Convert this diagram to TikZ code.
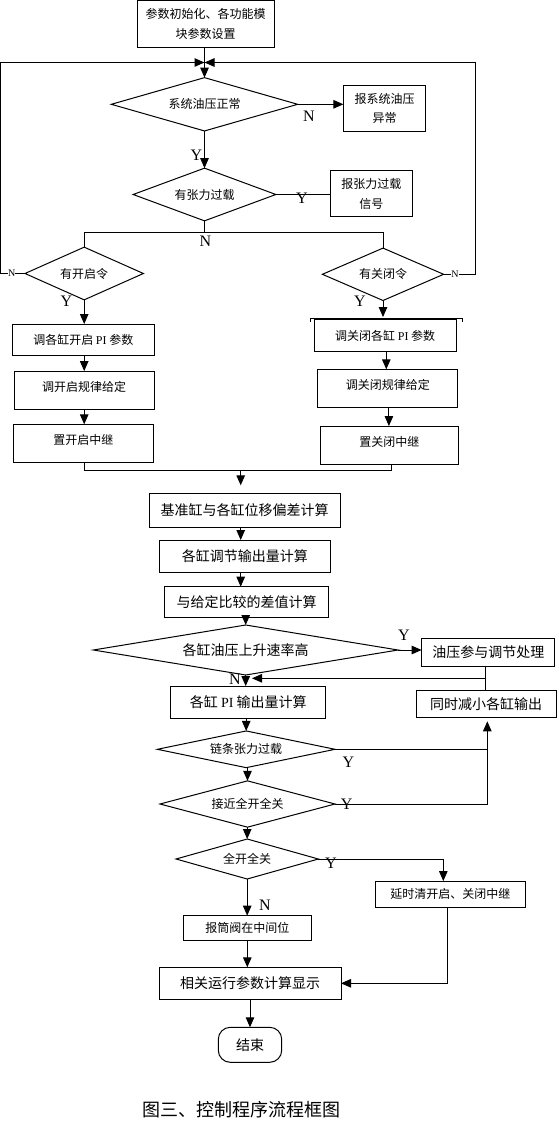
\documentclass[tikz,border=0pt]{standalone}
\usepackage{fontspec}
\setmainfont{Liberation Serif}
\newfontfamily\cjk{Noto Sans CJK SC}
\usetikzlibrary{arrows.meta,shapes.geometric}
\begin{document}
\begin{tikzpicture}[x=1pt,y=-1pt,line width=1pt,
  arr/.style={-{Triangle[length=10pt,width=8.5pt]}},
  box/.style={draw,rectangle,inner sep=0pt,outer sep=0pt,align=center},
  dia/.style={draw,diamond,inner sep=0pt,outer sep=0pt},
  fs/.style={font=\fontsize{12}{20}\cjk},
  fl/.style={font=\fontsize{14}{16}\cjk},
  up/.style={text height=10pt,text depth=8pt},
  yn/.style={font=\fontsize{16}{16}\selectfont,inner sep=0pt},
  yns/.style={font=\fontsize{10}{10}\selectfont,inner sep=0pt,fill=white},
]
\useasboundingbox (0,0) rectangle (559,1121);

% top section
\node[box,fs,minimum width=137,minimum height=47] (b1) at (205.7,24) {参数初始化、各功能模\\块参数设置};
\node[dia,fs,minimum width=186.4,minimum height=53.3,aspect=3.5] (d1) at (204.5,104.3) {系统油压正常};
\node[box,fs,minimum width=82.4,minimum height=46,font=\fontsize{12}{18.4}\cjk] (b2) at (384.6,108.3) {报系统油压\\异常};
\node[dia,fs,minimum width=142.7,minimum height=52.7,aspect=2.7] (d2) at (204.5,194.5) {有张力过载};
\node[box,fs,minimum width=82.5,minimum height=45.6] (b3) at (371.3,193.5) {报张力过载\\信号};
\node[dia,fs,minimum width=118.4,minimum height=52.7,aspect=2.25] (d3) at (84.2,273.5) {有开启令};
\node[dia,fs,minimum width=121.2,minimum height=52.4,aspect=2.3] (d4) at (383,274.3) {有关闭令};

% left column
\node[box,fs,minimum width=141.6,minimum height=31] (L1) at (83.3,339.5) {调各缸开启 {\rmfamily PI} 参数};
\node[box,fs,up,minimum width=139.8,minimum height=38.3] (L2) at (84.2,390.2) {调开启规律给定};
\node[box,fs,up,minimum width=140.1,minimum height=38] (L3) at (83.4,443.3) {置开启中继};

% right column
\node[box,fs,minimum width=142.3,minimum height=32.7] (R1) at (385.2,335.4) {调关闭各缸 {\rmfamily PI} 参数};
\node[box,fs,up,minimum width=139.8,minimum height=38] (R2) at (387.8,388.3) {调关闭规律给定};
\node[box,fs,up,minimum width=138.8,minimum height=38.3] (R3) at (389.4,445.2) {置关闭中继};

% middle
\node[box,fl,minimum width=191.3,minimum height=34] (M1) at (244.7,510.3) {基准缸与各缸位移偏差计算};
\node[box,fl,minimum width=171.7,minimum height=32.7] (M2) at (244.9,556.4) {各缸调节输出量计算};
\node[box,fl,minimum width=164.4,minimum height=31] (M3) at (246.5,602.2) {与给定比较的差值计算};
\node[dia,fl,minimum width=304.7,minimum height=50,aspect=6.1] (d5) at (245.7,650) {各缸油压上升速率高};
\node[box,fl,minimum width=133.3,minimum height=28.4] (P1) at (488.3,652.5) {油压参与调节处理};
\node[box,fl,minimum width=140,minimum height=26.6] (P2) at (486,704) {同时减小各缸输出};
\node[box,fl,minimum width=154.7,minimum height=32.3] (M4) at (248.3,702.2) {各缸 {\rmfamily PI} 输出量计算};
\node[dia,fs,minimum width=177.7,minimum height=36.7,aspect=4.8] (d6) at (246.2,749.3) {链条张力过载};
\node[dia,fs,minimum width=175,minimum height=46.3,aspect=3.8] (d7) at (247.5,804) {接近全开全关};
\node[dia,fs,minimum width=142.3,minimum height=40,aspect=3.5] (d8) at (247.2,859) {全开全关};
\node[box,fs,minimum width=150,minimum height=26.3] (T1) at (450.3,894.2) {延时清开启、关闭中继};
\node[box,fs,minimum width=128,minimum height=25.3] (T2) at (247.3,928.3) {报筒阀在中间位};
\node[box,fl,minimum width=182,minimum height=32] (T3) at (250,983.3) {相关运行参数计算显示};
\node[box,fl,minimum width=63.4,minimum height=35,rounded corners=12pt] (E) at (250,1044.8) {结束};
\node[font=\fontsize{18}{18}\cjk,inner sep=0pt] (cap) at (241,1110) {图三、控制程序流程框图};

% coordinates
\coordinate (top) at (204.5,62.5);
\coordinate (j1) at (204.5,232.3);
\coordinate (mg) at (240.7,470);
\coordinate (pv) at (485,678.3);
\coordinate (pin) at (252,678.3);
\coordinate (rv) at (487.3,749.3);

% connectors top
\draw[arr] (b1.south -| d1.north) -- (d1.north);
\draw[arr] (d3.west) -- ++(-24.5,0) |- (top);
\draw[arr] (d4.east) -- ++(32,0) |- (top);
\draw[arr] (d1.east) -- (d1.east -| b2.west);
\draw[arr] (d1.south) -- (d2.north);
\draw (d2.east) -- (d2.east -| b3.west);
\draw (d2.south) -- (j1);
\draw (d3.north) |- (j1) -| (d4.north);

% columns
\draw[arr] (d3.south) -- (d3.south |- L1.north);
\draw[arr] (L2.north |- L1.south) -- (L2.north);
\draw[arr] (L2.south) -- (L2.south |- L3.north);
\draw[arr] (d4.south) -- ([yshift=2pt]d4.south |- R1.north);
\draw (310.7,321.7) -- (310.7,318.3) -- (462.7,318.3) -- (462.7,321.7);
\draw[arr] ([xshift=1.1pt]R1.south) -- ([xshift=1.1pt]R1.south |- R2.north);
\draw[arr] ([xshift=1.1pt]R2.south) -- ([xshift=1.1pt]R2.south |- R3.north);
\draw ([xshift=0.8pt]L3.south) |- ([xshift=2.4pt]R3.south |- mg) -- ([xshift=2.4pt]R3.south);
\draw[arr,shorten >=8pt] (mg) -- (mg |- M1.north);

% middle connectors
\draw[arr] (mg |- M1.south) -- (mg |- M2.north);
\draw[arr] (mg |- M2.south) -- (mg |- M3.north);
\draw[arr] (d5.north |- M3.south) -- (d5.north);
\draw[arr] (d5.east) -- (d5.east -| P1.west);
\draw[arr] (d5.south) -- (d5.south |- M4.north);
\draw (pv |- P1.south) -- (pv |- P2.north);
\draw[arr] (pv) -- (pin);
\draw[arr] (d6.north |- M4.south) -- (d6.north);
\draw (d6.east) -- (rv);
\draw[arr,shorten >=4pt] (d7.east) -| (rv |- P2.south);
\draw[arr] (d7.north |- d6.south) -- (d7.north);
\draw[arr] (d8.north |- d7.south) -- (d8.north);
\draw[arr] (d8.east) -| ([xshift=-7pt]T1.north);
\draw[arr] (d8.south) -- (d8.south |- T2.north);
\draw[arr] (T2.south) -- (T2.south |- T3.north);
\draw[arr] ([xshift=-2.6pt]T1.south) |- (T3.east);
\draw[arr] (T3.south) -- (E.north);

% labels
\node[yn] (lN1) at (309,116) {N};
\node[yn] (lY1) at (196.5,155) {Y};
\node[yn] (lY2) at (302,198.5) {Y};
\node[yn] (lN2) at (205.4,241) {N};
\node[yns] (lN3) at (11.8,273.5) {N};
\node[yns] (lN4) at (455,274.3) {N};
\node[yn] (lY3) at (66.3,301.7) {Y};
\node[yn] (lY4) at (360,301.7) {Y};
\node[yn] (lY5) at (404,635) {Y};
\node[yn] (lN5) at (235,679.3) {N};
\node[yn] (lY6) at (348.3,762.7) {Y};
\node[yn] (lY7) at (346.7,804) {Y};
\node[yn] (lY8) at (331,863.3) {Y};
\node[yn] (lN6) at (265,905) {N};
\end{tikzpicture}
\end{document}
